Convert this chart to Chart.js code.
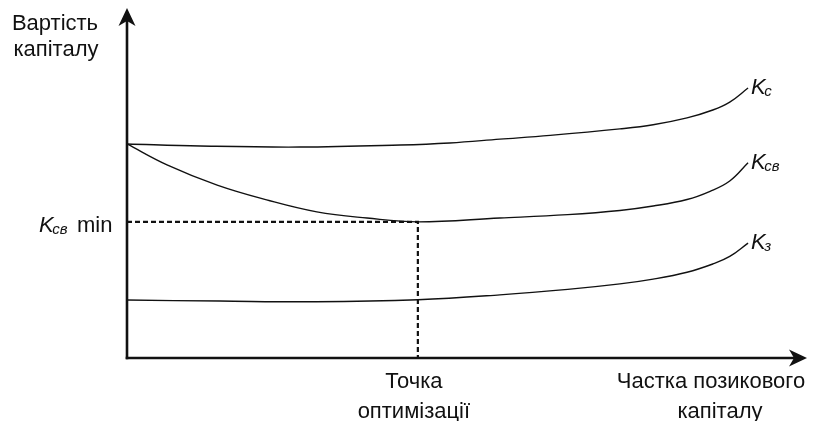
<!DOCTYPE html>
<html><head><meta charset="utf-8">
<script src="https://cdn.jsdelivr.net/npm/chart.js@4"></script>
<style>html,body{margin:0;padding:0;background:#fff}</style>
</head><body>
<canvas id="c" width="819" height="421" style="display:block;width:819px;height:421px"></canvas>
<script>
// Curve data (x: share of borrowed capital, y: cost of capital; arbitrary units 0..100)
const kcX  = [0, 10.8, 25.5, 40.3, 47.6, 55.0, 62.4, 72.7, 77.6, 82.6, 86.4, 88.9, 91.6];
const kcY  = [62.4, 61.8, 61.5, 62.1, 62.7, 63.8, 64.9, 66.8, 68.0, 70.0, 72.3, 74.6, 78.7];
const kcvX = [0, 5.9, 13.3, 20.6, 28.0, 35.4, 42.9, 55.0, 65.0, 72.7, 77.6, 82.6, 86.0, 88.9, 91.6];
const kcvY = [62.4, 56.3, 50.4, 46.1, 42.6, 40.8, 39.7, 40.8, 41.8, 43.0, 44.3, 46.2, 48.6, 51.6, 56.9];
const kzX  = [0, 13.7, 27.9, 42.9, 55.0, 65.0, 72.7, 77.6, 82.6, 86.4, 88.9, 91.6];
const kzY  = [16.9, 16.6, 16.4, 17.0, 18.4, 20.0, 21.6, 23.0, 25.0, 27.4, 29.6, 33.5];
const optX = 42.9;   // точка оптимізації
const optY = 39.7;   // Kсв min
const seriesSubs = ['с', 'св', 'з'];
const yAxisTitle = ['Вартість', 'капіталу'];
const optLabel = ['Точка', 'оптимізації'];
const xAxisTitle = ['Частка позикового', 'капіталу'];

const pts = (xs, ys) => xs.map((x, i) => ({x, y: ys[i]}));
const FONT = '"Liberation Sans", Arial, sans-serif';
const INK = '#111';

const curve = (data) => ({data, borderColor: INK, borderWidth: 1.4, pointRadius: 0,
  tension: 0.4, fill: false, clip: false});

const decor = {
  id: 'decor',
  afterDatasetsDraw(chart) {
    const {ctx, chartArea: a, scales: {x, y}} = chart;
    ctx.save();
    ctx.fillStyle = INK; ctx.strokeStyle = INK;
    // axes
    const x0 = x.getPixelForValue(0), y0 = y.getPixelForValue(0);
    ctx.lineWidth = 2.6;
    ctx.beginPath(); ctx.moveTo(x0, y0 + 1.3); ctx.lineTo(x0, a.top - 2); ctx.stroke();
    ctx.beginPath(); ctx.moveTo(x0 - 1.3, y0); ctx.lineTo(a.right - 4, y0); ctx.stroke();
    // arrow heads
    const tipY = a.top - 7;
    ctx.beginPath();
    ctx.moveTo(x0, tipY); ctx.lineTo(x0 + 8.5, tipY + 18); ctx.lineTo(x0, tipY + 13);
    ctx.lineTo(x0 - 8.5, tipY + 18); ctx.closePath(); ctx.fill();
    const tipX = a.right + 2;
    ctx.beginPath();
    ctx.moveTo(tipX, y0); ctx.lineTo(tipX - 18, y0 - 8.5); ctx.lineTo(tipX - 13, y0);
    ctx.lineTo(tipX - 18, y0 + 8.5); ctx.closePath(); ctx.fill();

    // texts
    ctx.textBaseline = 'alphabetic';
    ctx.font = '22px ' + FONT;
    ctx.textAlign = 'center';
    ctx.fillText(yAxisTitle[0], 55, 30);
    ctx.fillText(yAxisTitle[1], 56, 56);
    const ox = x.getPixelForValue(optX);
    ctx.fillText(optLabel[0], ox - 4, 388);
    ctx.fillText(optLabel[1], ox - 4, 418);
    ctx.fillText(xAxisTitle[0], 711, 388);
    ctx.fillText(xAxisTitle[1], 720, 418);

    // K labels with subscripts
    const kLabel = (px, py, sub) => {
      ctx.textAlign = 'left';
      ctx.font = 'italic 22px ' + FONT;
      ctx.fillText('K', px, py);
      const w = ctx.measureText('K').width;
      ctx.font = 'italic 15px ' + FONT;
      ctx.fillText(sub, px + w - 1.5, py + 2);
      return px + w - 1.5 + ctx.measureText(sub).width;
    };
    [[kcX, kcY], [kcvX, kcvY], [kzX, kzY]].forEach(([xs, ys], i) => {
      const px = x.getPixelForValue(xs[xs.length - 1]);
      const py = y.getPixelForValue(ys[ys.length - 1]);
      kLabel(px + 3, py + 6, seriesSubs[i]);
    });
    // Kсв min label
    const my = y.getPixelForValue(optY);
    kLabel(39, my + 10, seriesSubs[1]);
    ctx.font = '22px ' + FONT; ctx.textAlign = 'left';
    ctx.fillText('min', 77, my + 10);
    ctx.restore();
  }
};

new Chart(document.getElementById('c'), {
  type: 'line',
  data: {
    datasets: [
      curve(pts(kcX, kcY)),
      curve(pts(kcvX, kcvY)),
      curve(pts(kzX, kzY)),
      {data: [{x: 0, y: optY}, {x: optX, y: optY}, {x: optX, y: 0}],
       borderColor: INK, borderWidth: 2.2, borderDash: [5, 3], pointRadius: 0,
       tension: 0, fill: false, clip: false}
    ]
  },
  options: {
    responsive: false, animation: false, devicePixelRatio: 1,
    layout: {padding: {left: 127, right: 14, top: 15, bottom: 63}},
    plugins: {legend: {display: false}, tooltip: {enabled: false}},
    scales: {
      x: {type: 'linear', min: 0, max: 100, display: false},
      y: {type: 'linear', min: 0, max: 100, display: false}
    }
  },
  plugins: [decor]
});
</script>
</body></html>
